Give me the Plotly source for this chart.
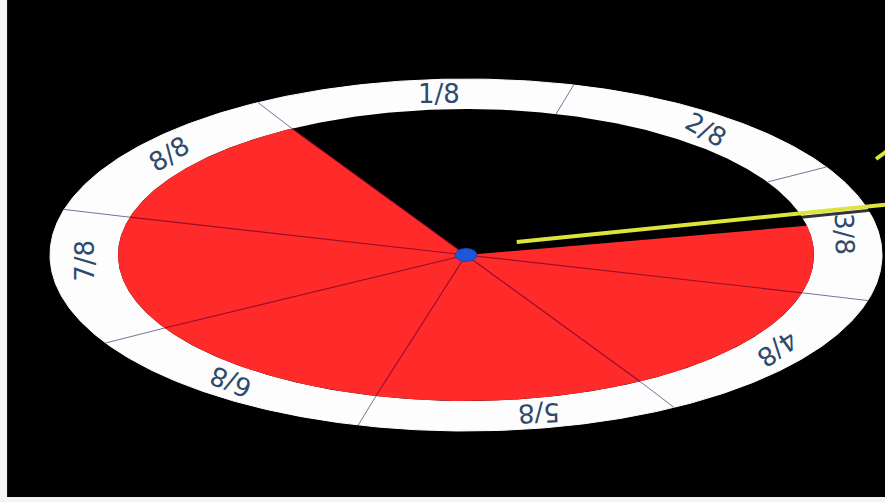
import numpy as np
import plotly.graph_objects as go

# ---------------- data ----------------
sectors = ["1/8", "2/8", "3/8", "4/8", "5/8", "6/8", "7/8", "8/8"]
level_eighths = 5.59          # red filled part, in eighths (counted back from the 1/8 mark)

# ---------------- geometry / style ----------------
W, H = 885, 502
CX, CY = 466, 255             # hub (pixel frame)
A_IN, B_IN = 348, 146         # inner disc semi-axes
A_OUT, B_OUT = 416, 176       # outer ring semi-axes
START = 120.0                 # parametric angle where "1/8" begins
STEP = 360.0 / len(sectors)
RED = "#ff2b2b"
RING = "#fdfdfd"
LABEL = "#2e4a6c"
YELLOW = "#dde43c"
# photo perspective: label placement angle and text rotation per label
LABEL_POS = [94, 51, 7.6, -35.5, -79, -128, -178, 141]
LABEL_ROT = [0, 30, 88, 145, 178, 202, 270, -32]


def ell(a, b, t_deg):
    r = np.radians(t_deg)
    return CX + a * np.cos(r), CY - b * np.sin(r)


fig = go.Figure()
tt = np.linspace(0, 360, 721)

# outer white ring
x, y = ell(A_OUT, B_OUT, tt)
fig.add_trace(go.Scatter(x=x, y=y, fill="toself", fillcolor=RING, mode="lines",
                         line=dict(color=RING, width=1), hoverinfo="skip"))
# inner black disc
x, y = ell(A_IN, B_IN, tt)
fig.add_trace(go.Scatter(x=x, y=y, fill="toself", fillcolor="#000000", mode="lines",
                         line=dict(color="#000000", width=0), hoverinfo="skip"))

# red filled wedge
t0 = START
t1 = START + level_eighths * STEP
tw = np.linspace(t0, t1, 400)
wx, wy = ell(A_IN, B_IN, tw)
fig.add_trace(go.Scatter(x=np.r_[CX, wx, CX], y=np.r_[CY, wy, CY], fill="toself",
                         fillcolor=RED, mode="lines", line=dict(color=RED, width=0),
                         hoverinfo="skip"))

# sector dividers
bounds = [START - k * STEP for k in range(len(sectors))]
rx, ry, dx, dy = [], [], [], []
for b in bounds:
    xi, yi = ell(A_IN, B_IN, b)
    xo, yo = ell(A_OUT, B_OUT, b)
    rx += [xi, xo, None]
    ry += [yi, yo, None]
    rel = (b - t0) % 360
    if rel <= (t1 - t0) + 1e-9:          # only visible over the red fill
        dx += [CX, xi, None]
        dy += [CY, yi, None]
fig.add_trace(go.Scatter(x=rx, y=ry, mode="lines", line=dict(color="#6f7799", width=1),
                         hoverinfo="skip"))
fig.add_trace(go.Scatter(x=dx, y=dy, mode="lines",
                         line=dict(color="rgba(110,0,40,0.7)", width=1.2), hoverinfo="skip"))

# clock hand (raised slightly above the dial)
hand_ang = np.radians(-5.75)
hbx, hby = CX, CY - 8
hr0, hr1 = 51, 440
fig.add_trace(go.Scatter(x=[hbx + 20 * np.cos(hand_ang), hbx + hr1 * np.cos(hand_ang)],
                         y=[hby + 4 + 20 * np.sin(hand_ang), hby + 4 + hr1 * np.sin(hand_ang)],
                         mode="lines", line=dict(color="rgba(0,0,0,0.8)", width=3),
                         hoverinfo="skip"))
fig.add_trace(go.Scatter(x=[hbx + hr0 * np.cos(hand_ang), hbx + hr1 * np.cos(hand_ang)],
                         y=[hby + hr0 * np.sin(hand_ang), hby + hr1 * np.sin(hand_ang)],
                         mode="lines", line=dict(color=YELLOW, width=4), hoverinfo="skip"))
# small marker tip at the right edge
tick_ang = np.radians(-36)
tbx, tby = CX + 410, CY - 96
fig.add_trace(go.Scatter(x=[tbx, tbx + 14 * np.cos(tick_ang)],
                         y=[tby, tby + 14 * np.sin(tick_ang)],
                         mode="lines", line=dict(color=YELLOW, width=4), hoverinfo="skip"))

# hub
hx, hy = ell(11, 6.5, tt)
fig.add_trace(go.Scatter(x=hx, y=hy, fill="toself", fillcolor="#1f55d6", mode="lines",
                         line=dict(color="#1846b8", width=1), hoverinfo="skip"))

# labels
A_MID, B_MID = (A_IN + A_OUT) / 2, (B_IN + B_OUT) / 2
for lab, pa, rot in zip(sectors, LABEL_POS, LABEL_ROT):
    lx, ly = ell(A_MID, B_MID, pa)
    fig.add_annotation(x=lx, y=ly, text=lab, showarrow=False, textangle=rot,
                       font=dict(family="DejaVu Sans", size=26, color=LABEL),
                       xanchor="center", yanchor="middle")

fig.update_layout(
    width=W, height=H, margin=dict(l=0, r=0, t=0, b=0),
    paper_bgcolor="#000000", plot_bgcolor="#000000", showlegend=False,
    xaxis=dict(range=[0, W], visible=False, fixedrange=True),
    yaxis=dict(range=[H, 0], visible=False, fixedrange=True),
    shapes=[
        dict(type="rect", xref="paper", yref="paper", x0=0, x1=0.008, y0=0, y1=1,
             fillcolor="#f4f4f4", line=dict(width=0), layer="above"),
        dict(type="rect", xref="paper", yref="paper", x0=0, x1=1, y0=0, y1=0.01,
             fillcolor="#f4f4f4", line=dict(width=0), layer="above"),
    ],
)

fig.write_html("out.html", config={"displayModeBar": False},
               post_script="document.body.style.margin='0';document.body.style.overflow='hidden';")
